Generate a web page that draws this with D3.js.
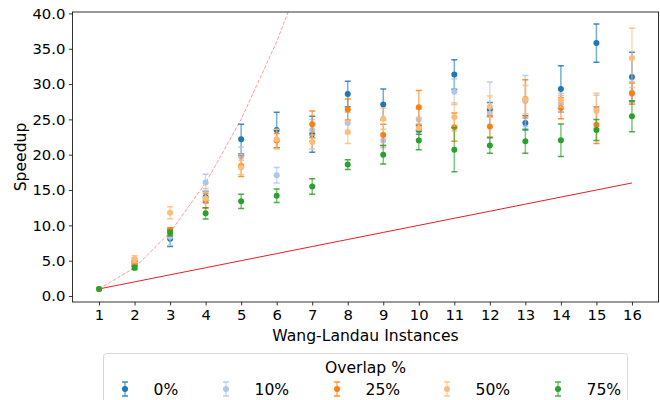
<!DOCTYPE html>
<html><head><meta charset="utf-8">
<script src="https://cdn.jsdelivr.net/npm/d3@7"></script>
<style>body{margin:0;background:#fff}svg{display:block;font-family:"DejaVu Sans",sans-serif}</style>
</head><body><svg id="c" width="660" height="400"></svg>
<script>
const instances = [1,2,3,4,5,6,7,8,9,10,11,12,13,14,15,16];
const overlapLabels = ["0%","10%","25%","50%","75%"];
const seriesColors = ["#1f77b4","#aec7e8","#ff7f0e","#ffbb78","#2ca02c"];
const speedup0  = [1.0,4.6,8.1,14.0,22.2,23.5,22.9,28.6,27.1,23.5,31.35,26.4,24.5,29.3,35.8,31.0];
const err0      = [0,0.4,1.1,0.8,2.1,2.5,2.55,1.8,2.2,0.6,2.1,1.0,1.0,3.3,2.7,3.5];
const speedup10 = [1.0,4.4,8.4,16.05,19.7,17.1,23.5,24.5,22.0,25.0,28.9,25.8,27.6,27.2,26.4,28.85];
const err10     = [0,0.5,1.2,1.2,1.4,1.1,1.5,1.5,1.0,1.5,1.8,4.5,3.6,1.2,2.0,1.5];
const speedup25 = [1.0,4.85,9.35,13.5,18.4,22.0,24.3,26.4,22.8,26.7,23.9,24.0,27.9,26.6,24.2,28.65];
const err25     = [0,0.5,0.3,1.0,1.5,1.0,1.9,1.5,1.5,2.4,2.0,1.5,2.7,1.5,2.6,1.5];
const speedup50 = [1.0,5.2,11.8,13.8,18.2,22.2,21.8,23.2,25.1,23.75,25.35,26.8,27.8,27.7,26.2,33.7];
const err50     = [0,0.5,0.85,1.4,1.0,1.4,1.0,1.6,1.5,1.5,2.0,1.5,2.0,1.0,2.5,4.2];
const speedup75 = [1.0,4.0,8.9,11.7,13.4,14.2,15.5,18.6,20.0,22.0,20.7,21.3,21.9,22.05,23.5,25.45];
const err75     = [0,0.3,0.4,0.8,1.0,0.95,1.1,0.7,1.3,1.3,3.1,1.1,1.7,2.3,1.5,2.2];
const linearIdeal = [1,2,3,4,5,6,7,8,9,10,11,12,13,14,15,16];
const quadraticIdeal = [1,4,9,16,25,36,49,64,81,100,121,144,169,196,225,256];
const yTicks = [0,5,10,15,20,25,30,35,40];

const series = [
  {v:speedup0, e:err0}, {v:speedup10, e:err10}, {v:speedup25, e:err25},
  {v:speedup50, e:err50}, {v:speedup75, e:err75}
];

const svg = d3.select("#c");
const L=72.4, R=658.6, T=12, B=302;
const x = d3.scaleLinear().domain([0.25,16.75]).range([L,R]);
const y = d3.scaleLinear().domain([-0.85,40.2]).range([B,T]);
const FS = 15.6;

svg.append("defs").append("clipPath").attr("id","clip")
  .append("rect").attr("x",L).attr("y",T).attr("width",R-L).attr("height",B-T);

// axes
const xa = svg.append("g").attr("transform",`translate(0,${B})`)
  .call(d3.axisBottom(x).tickValues(instances).tickFormat(d3.format("d")).tickSizeOuter(0).tickSize(3.5).tickPadding(3.5));
const ya = svg.append("g").attr("transform",`translate(${L},0)`)
  .call(d3.axisLeft(y).tickValues(yTicks).tickFormat(d3.format(".1f")).tickSizeOuter(0).tickSize(3.5).tickPadding(3.5));
[xa,ya].forEach(a=>{
  a.select(".domain").remove();
  a.selectAll("text").attr("font-size",14.8).attr("fill","#000").attr("font-family","DejaVu Sans");
  a.selectAll("line").attr("stroke","#000").attr("stroke-width",0.8);
});

const plot = svg.append("g").attr("clip-path","url(#clip)");
const line = d3.line().x((d,i)=>x(instances[i])).y(d=>y(d));
plot.append("path").datum(quadraticIdeal).attr("d",line)
  .attr("fill","none").attr("stroke","#ff0000").attr("stroke-opacity",0.4)
  .attr("stroke-width",1).attr("stroke-dasharray","3.7,1.6");
plot.append("path").datum(linearIdeal).attr("d",line)
  .attr("fill","none").attr("stroke","#e0202a").attr("stroke-width",1);

series.forEach((s,si)=>{
  const g = plot.append("g");
  const col = seriesColors[si];
  instances.forEach((xi,i)=>{
    const cx = x(xi), v=s.v[i], e=s.e[i];
    if (e>0){
      g.append("line").attr("x1",cx).attr("x2",cx).attr("y1",y(v-e)).attr("y2",y(v+e))
        .attr("stroke",col).attr("stroke-width",1.5).attr("stroke-opacity",0.6);
      [v-e,v+e].forEach(c=>g.append("line").attr("x1",cx-3).attr("x2",cx+3).attr("y1",y(c)).attr("y2",y(c))
        .attr("stroke",col).attr("stroke-width",1.5).attr("stroke-opacity",0.85));
    }
    g.append("circle").attr("cx",cx).attr("cy",y(v)).attr("r",3).attr("fill",col);
  });
});

// frame
svg.append("rect").attr("x",L).attr("y",T).attr("width",R-L).attr("height",B-T)
  .attr("fill","none").attr("stroke","#000").attr("stroke-width",0.8);

// labels
svg.append("text").attr("x",(L+R)/2).attr("y",341).attr("text-anchor","middle")
  .attr("font-size",FS).text("Wang-Landau Instances");
svg.append("text").attr("transform",`translate(26,${(T+B)/2}) rotate(-90)`).attr("text-anchor","middle")
  .attr("font-size",FS).text("Speedup");

// legend
const lg = svg.append("g");
lg.append("rect").attr("x",103.5).attr("y",353.5).attr("width",524).attr("height",60).attr("rx",3)
  .attr("fill","#fff").attr("stroke","#d9d9d9").attr("stroke-width",1);
lg.append("text").attr("x",365.5).attr("y",373).attr("text-anchor","middle").attr("font-size",FS).text("Overlap %");
const markerX = [125,226,337,447,558];
overlapLabels.forEach((lab,i)=>{
  const mx = markerX[i], my=389, col=seriesColors[i];
  lg.append("line").attr("x1",mx).attr("x2",mx).attr("y1",my-7).attr("y2",my+7).attr("stroke",col).attr("stroke-width",1.5).attr("stroke-opacity",0.6);
  [my-7,my+7].forEach(c=>lg.append("line").attr("x1",mx-3).attr("x2",mx+3).attr("y1",c).attr("y2",c).attr("stroke",col).attr("stroke-width",1.5).attr("stroke-opacity",0.85));
  lg.append("circle").attr("cx",mx).attr("cy",my).attr("r",3).attr("fill",col);
  lg.append("text").attr("x",mx+28.5).attr("y",my+5.5).attr("font-size",FS).text(lab);
});
</script></body></html>
